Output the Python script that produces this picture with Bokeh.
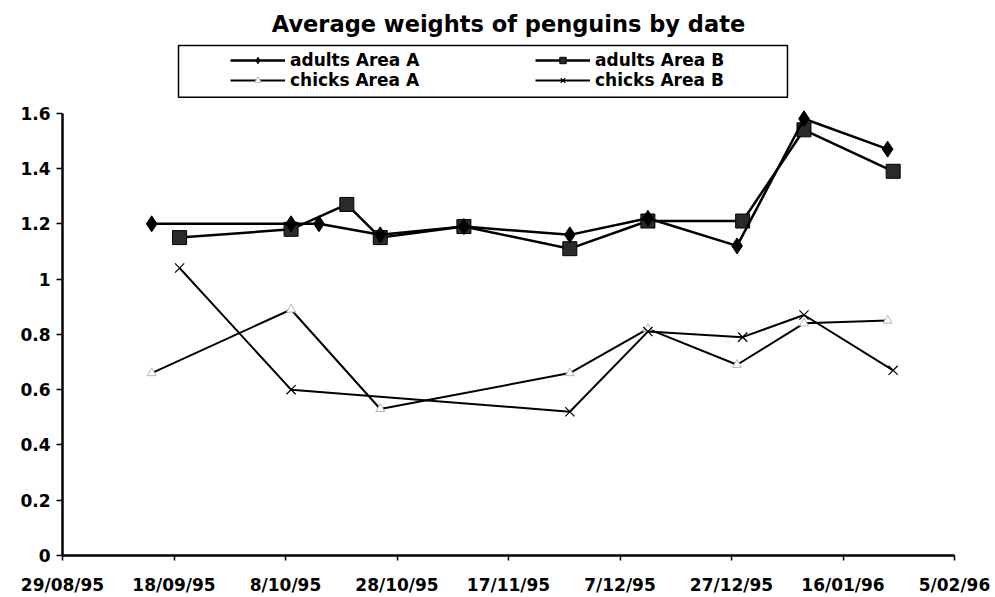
import pandas as pd
from bokeh.plotting import figure
from bokeh.models import (Range1d, FixedTicker, CustomJSTickFormatter, NumeralTickFormatter,
                          Legend, LegendItem, BoxAnnotation)
from bokeh.embed import file_html
from bokeh.resources import INLINE

# ---------------- data ----------------
adults_a_dates = ["1995-09-14", "1995-10-09", "1995-10-14", "1995-10-25", "1995-11-09",
                  "1995-11-28", "1995-12-12", "1995-12-28", "1996-01-09", "1996-01-24"]
adults_a_vals = [1.20, 1.20, 1.20, 1.16, 1.19, 1.16, 1.22, 1.12, 1.58, 1.47]

adults_b_dates = ["1995-09-19", "1995-10-09", "1995-10-19", "1995-10-25", "1995-11-09",
                  "1995-11-28", "1995-12-12", "1995-12-29", "1996-01-09", "1996-01-25"]
adults_b_vals = [1.15, 1.18, 1.27, 1.15, 1.19, 1.11, 1.21, 1.21, 1.54, 1.39]

chicks_a_dates = ["1995-09-14", "1995-10-09", "1995-10-25", "1995-11-28", "1995-12-12",
                  "1995-12-28", "1996-01-09", "1996-01-24"]
chicks_a_vals = [0.66, 0.89, 0.53, 0.66, 0.82, 0.69, 0.84, 0.85]

chicks_b_dates = ["1995-09-19", "1995-10-09", "1995-11-28", "1995-12-12", "1995-12-29",
                  "1996-01-09", "1996-01-25"]
chicks_b_vals = [1.04, 0.60, 0.52, 0.81, 0.79, 0.87, 0.67]

x_tick_dates = ["1995-08-29", "1995-09-18", "1995-10-08", "1995-10-28", "1995-11-17",
                "1995-12-07", "1995-12-27", "1996-01-16", "1996-02-05"]
x_tick_labels = ["29/08/95", "18/09/95", "8/10/95", "28/10/95", "17/11/95",
                 "7/12/95", "27/12/95", "16/01/96", "5/02/96"]
y_ticks = [0, 0.2, 0.4, 0.6, 0.8, 1.0, 1.2, 1.4, 1.6]

title_text = "Average weights of penguins by date"
labels = ["adults Area A", "adults Area B", "chicks Area A", "chicks Area B"]


def ms(d):
    return pd.Timestamp(d).value / 1e6


DAY = 86400000.0
x0 = ms(x_tick_dates[0])
x1 = ms(x_tick_dates[-1])
Y_END = 1.8595

FONT = "DejaVu Sans"

p = figure(width=995, height=597, output_backend="svg", toolbar_location=None,
           x_range=Range1d(x0, x1), y_range=Range1d(0, Y_END),
           min_border_left=62, min_border_right=41, min_border_top=41, min_border_bottom=40)
p.outline_line_color = None
p.xgrid.visible = False
p.ygrid.visible = False

p.title.text = title_text
p.title.align = "center"
p.title.text_font = FONT
p.title.text_font_size = "22.5px"
p.title.text_font_style = "bold"
p.title.text_color = "black"
p.title.standoff = 10

# axes
for ax in (p.xaxis[0], p.yaxis[0]):
    ax.axis_line_width = 2.5
    ax.axis_line_color = "black"
    ax.major_tick_line_color = "black"
    ax.major_tick_line_width = 1.5
    ax.major_tick_in = 0
    ax.minor_tick_line_color = None
    ax.major_label_text_font = FONT
    ax.major_label_text_font_style = "bold"
    ax.major_label_text_font_size = "17px"
    ax.major_label_text_color = "black"

p.xaxis.ticker = FixedTicker(ticks=[ms(d) for d in x_tick_dates])
p.xaxis.formatter = CustomJSTickFormatter(
    args=dict(tvals=[ms(d) for d in x_tick_dates], tlabels=x_tick_labels),
    code="""
        let best = 0, bd = Infinity;
        for (let i = 0; i < tvals.length; i++) {
            const d = Math.abs(tvals[i] - tick);
            if (d < bd) { bd = d; best = i; }
        }
        return tlabels[best];
    """)
p.xaxis.major_tick_out = 5
p.xaxis.major_label_standoff = 14

p.yaxis.ticker = FixedTicker(ticks=y_ticks)
p.yaxis.formatter = NumeralTickFormatter(format="0.[0]")
p.yaxis.bounds = (0, 1.6)
p.yaxis.major_tick_out = 6
p.yaxis.major_label_standoff = 6


def xs(dates):
    return [pd.Timestamp(d) for d in dates]


# chicks
lca = p.line(xs(chicks_a_dates), chicks_a_vals, line_color="black", line_width=2)
sca = p.scatter(xs(chicks_a_dates), chicks_a_vals, marker="triangle", size=9,
                line_color="#b5b5b5", fill_color="white", line_width=1)
lcb = p.line(xs(chicks_b_dates), chicks_b_vals, line_color="black", line_width=2)
scb = p.scatter(xs(chicks_b_dates), chicks_b_vals, marker="x", size=13,
                line_color="black", line_width=1.2)

# adults
lab = p.line(xs(adults_b_dates), adults_b_vals, line_color="black", line_width=2.5)
sab = p.scatter(xs(adults_b_dates), adults_b_vals, marker="square", size=14,
                line_color="black", fill_color="#2a2a2a", line_width=1)
laa = p.line(xs(adults_a_dates), adults_a_vals, line_color="black", line_width=2.5)
saa = p.scatter(xs(adults_a_dates), adults_a_vals, marker="diamond", size=16,
                line_color="black", fill_color="black")

# legend box
box = BoxAnnotation(left=x0 + 20.81 * DAY, right=x0 + 130.04 * DAY, bottom=1.658, top=1.845,
                    fill_alpha=0, line_color="black", line_alpha=1.0, line_width=1.5)
p.add_layout(box)


def make_legend(items, loc):
    lg = Legend(items=items, location=loc, orientation="vertical",
                border_line_color=None, background_fill_alpha=0,
                label_text_font=FONT, label_text_font_style="bold",
                label_text_font_size="17px", label_text_line_height=0.9,
                label_text_color="black",
                label_standoff=5,
                glyph_width=55, glyph_height=16, label_height=16,
                padding=4, spacing=0, margin=0)
    return lg


leg1 = make_legend([LegendItem(label=labels[0], renderers=[laa, saa]),
                    LegendItem(label=labels[2], renderers=[lca, sca])], (168, 465))
leg2 = make_legend([LegendItem(label=labels[1], renderers=[lab, sab]),
                    LegendItem(label=labels[3], renderers=[lcb, scb])], (473, 465))
p.add_layout(leg1, "center")
p.add_layout(leg2, "center")

open("out.html", "w").write(file_html(p, INLINE))
